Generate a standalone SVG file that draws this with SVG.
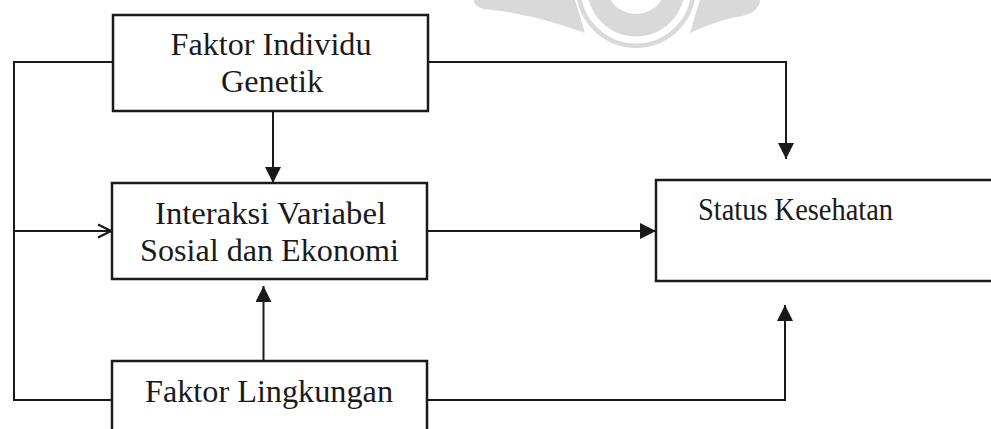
<svg xmlns="http://www.w3.org/2000/svg" width="991" height="429" viewBox="0 0 991 429">
<style>
.box{fill:#fff;stroke:#1a1a1a;stroke-width:2.5}
.ln{fill:none;stroke:#1a1a1a;stroke-width:2}
.t{font-family:"Liberation Serif","Times New Roman",serif;font-size:31px;fill:#1a1a1a;text-anchor:middle}
.wm{fill:#d9d9d9}
</style>
<defs>
<marker id="tri" viewBox="0 0 16 16" refX="16" refY="8" markerWidth="16" markerHeight="16" markerUnits="userSpaceOnUse" orient="auto">
<path d="M0,0 L16,8 L0,16 Z" fill="#1a1a1a"/>
</marker>
<marker id="open" viewBox="0 0 16 16" refX="15" refY="8" markerWidth="16" markerHeight="16" markerUnits="userSpaceOnUse" orient="auto">
<path d="M2,1.5 L15,8 L2,14.5" fill="none" stroke="#1a1a1a" stroke-width="2.2"/>
</marker>
<clipPath id="top"><rect x="0" y="0" width="991" height="60"/></clipPath>
</defs>
<g id="watermark" clip-path="url(#top)">
<path class="wm" d="M474,0 L575,0 L585,33 C560,24 530,14 484,9 C476,7 474,4 474,0 Z"/>
<path class="wm" d="M700,0 L760,0 C760,8 752,14 742,16 C720,20 705,26 690,33 Z"/>
<circle class="wm" cx="636" cy="-12" r="60"/>
<circle cx="636" cy="-12" r="52" fill="none" stroke="#fff" stroke-width="7"/>
<circle cx="636" cy="-16" r="30" fill="#fff"/>
</g>
<g id="connectors">
<path class="ln" d="M113,62 H14 V400 H113"/>
<path class="ln" d="M14,231 H111" marker-end="url(#open)"/>
<path class="ln" d="M273,111 V183" marker-end="url(#tri)"/>
<path class="ln" d="M263.5,360 V286" marker-end="url(#tri)"/>
<path class="ln" d="M428,62 H786 V159" marker-end="url(#tri)"/>
<path class="ln" d="M427,231 H656" marker-end="url(#tri)"/>
<path class="ln" d="M427,400 H785 V305" marker-end="url(#tri)"/>
</g>
<g id="n-individu">
<rect class="box" x="113" y="15" width="315" height="96"/>
<text class="t" x="271" y="55" textLength="201" lengthAdjust="spacingAndGlyphs">Faktor Individu</text>
<text class="t" x="272" y="92" textLength="102" lengthAdjust="spacingAndGlyphs">Genetik</text>
</g>
<g id="n-interaksi">
<rect class="box" x="112" y="183" width="315" height="96"/>
<text class="t" x="270.5" y="224" textLength="231" lengthAdjust="spacingAndGlyphs">Interaksi Variabel</text>
<text class="t" x="269.5" y="261" textLength="259" lengthAdjust="spacingAndGlyphs">Sosial dan Ekonomi</text>
</g>
<g id="n-lingkungan">
<rect class="box" x="112" y="361" width="315" height="80"/>
<text class="t" x="269" y="402" textLength="248" lengthAdjust="spacingAndGlyphs">Faktor Lingkungan</text>
</g>
<g id="n-status">
<rect class="box" x="656" y="180" width="350" height="101"/>
<text class="t" x="795.5" y="220" textLength="195" lengthAdjust="spacingAndGlyphs">Status Kesehatan</text>
</g>
</svg>
